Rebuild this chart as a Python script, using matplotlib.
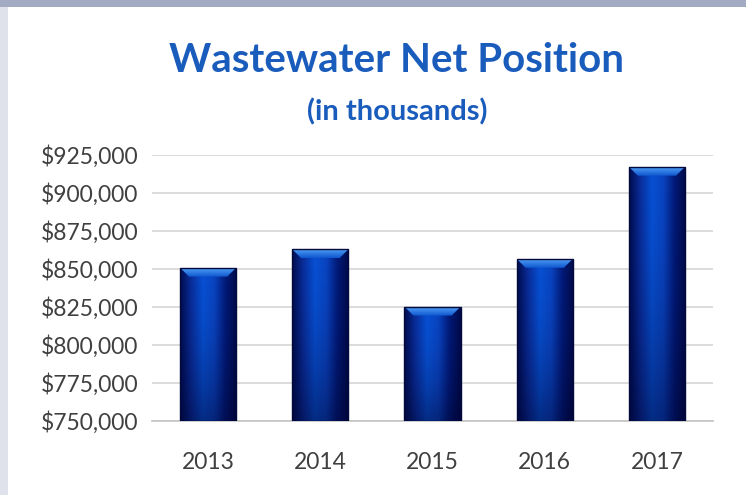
import numpy as np
import matplotlib.pyplot as plt
from matplotlib.patches import Rectangle, Polygon
from matplotlib.colors import LinearSegmentedColormap
from matplotlib.ticker import FuncFormatter

# ── data ─────────────────────────────────────────────────────────────
years = ["2013", "2014", "2015", "2016", "2017"]
net_position = [850800, 862900, 825200, 856600, 917200]

y_min, y_max, y_step = 750000, 925000, 25000

# ── colours ──────────────────────────────────────────────────────────
title_blue = "#1a5cbc"
label_grey = "#404040"
grid_grey = "#d9d9d9"
bar_cmap = LinearSegmentedColormap.from_list(
    "bar", ["#000c4e", "#0a2e9a", "#0750d2", "#0a44c0", "#021a78", "#000a48"])
cap_cmap = LinearSegmentedColormap.from_list("cap", ["#0f56d0", "#4d9ef4"])

plt.rcParams["font.family"] = ["Lato", "DejaVu Sans"]

fig = plt.figure(figsize=(7.46, 4.95), dpi=100)
fig.patch.set_facecolor("white")

# slide frame along the top and left edges
fig.patches.append(Rectangle((0, 0.986), 1, 0.014, transform=fig.transFigure,
                             facecolor="#a3abc2", edgecolor="none", zorder=0))
fig.patches.append(Rectangle((0, 0), 0.011, 0.986, transform=fig.transFigure,
                             facecolor="#dfe2ea", edgecolor="none", zorder=0))

ax = fig.add_axes([0.2038, 0.1495, 0.752, 0.5374])
ax.set_xlim(-0.5, len(years) - 0.5)
ax.set_ylim(y_min, y_max)

x = np.arange(len(years))
bars = ax.bar(x, [v - y_min for v in net_position], bottom=y_min, width=0.5,
              color="none", edgecolor="none", zorder=3)

# horizontal shading across each bar, darkening toward the base
gx = np.linspace(0, 1, 200)
gy = np.linspace(0, 1, 100)[:, None]
shade = np.tile(gx, (100, 1))
cap_grad = np.tile(np.linspace(0, 1, 50)[:, None], (1, 10))
for rect in bars:
    x0, y0 = rect.get_x(), rect.get_y()
    w, h = rect.get_width(), rect.get_height()
    im = ax.imshow(shade, cmap=bar_cmap, aspect="auto", origin="lower",
                   extent=(x0, x0 + w, y0, y0 + h), zorder=3,
                   interpolation="bilinear")
    im.set_clip_path(rect)
    fade = np.zeros((100, 1, 4))
    fade[..., 2] = 0.15
    fade[..., 3] = 0.45 * (1 - gy) ** 2
    dim = ax.imshow(fade, aspect="auto", origin="lower",
                    extent=(x0, x0 + w, y0, y0 + h), zorder=3.5,
                    interpolation="bilinear")
    dim.set_clip_path(rect)
    # bevelled cap on top
    inset = 0.16 * w
    cap_h = 5800
    top = y0 + h
    bevel = Polygon([(x0, top), (x0 + w, top), (x0 + w - inset, top - cap_h),
                     (x0 + inset, top - cap_h)], closed=True,
                    facecolor="none", edgecolor="none")
    ax.add_patch(bevel)
    cap_im = ax.imshow(cap_grad, cmap=cap_cmap, aspect="auto", origin="lower",
                       extent=(x0, x0 + w, top - cap_h, top), zorder=4,
                       interpolation="bilinear")
    cap_im.set_clip_path(bevel)
    ax.add_patch(Rectangle((x0, y0), w, h, facecolor="none",
                           edgecolor="#000a3c", linewidth=1.0, zorder=5))

ax.set_yticks(np.arange(y_min, y_max + 1, y_step))
ax.yaxis.set_major_formatter(FuncFormatter(lambda v, _: f"${v:,.0f}"))
ax.set_xticks(x)
ax.set_xticklabels(years)
ax.tick_params(axis="y", length=0, pad=10, labelsize=16.5, labelcolor=label_grey)
ax.tick_params(axis="x", length=0, pad=22, labelsize=16.5, labelcolor=label_grey)
ax.grid(axis="y", color=grid_grey, linewidth=1.3, zorder=0)
ax.set_axisbelow(True)
for side in ["top", "right", "left"]:
    ax.spines[side].set_visible(False)
ax.spines["bottom"].set_color("#c8c8c8")
ax.spines["bottom"].set_linewidth(1.3)

fig.text(0.532, 0.878, "Wastewater Net Position", ha="center", va="center",
         fontsize=29, fontweight="bold", color=title_blue)
fig.text(0.532, 0.773, "(in thousands)", ha="center", va="center",
         fontsize=21, fontweight="bold", color=title_blue)

fig.savefig("out.png", dpi=100)
